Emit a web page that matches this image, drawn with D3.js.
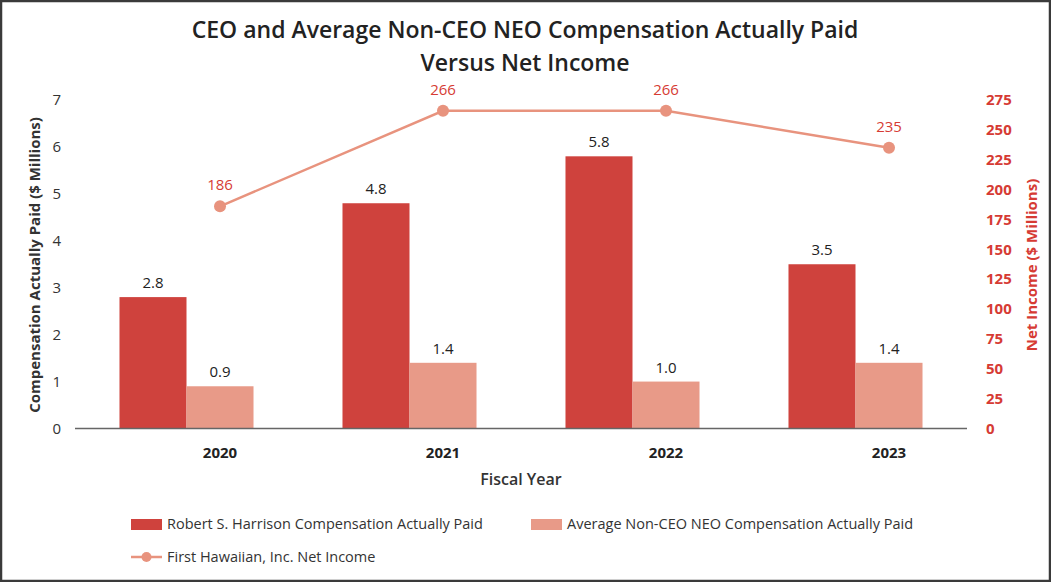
<!DOCTYPE html>
<html>
<head>
<meta charset="utf-8">
<script src="https://cdn.jsdelivr.net/npm/d3@7"></script>
<style>
  body { margin: 0; background: #fff; }
  svg { display: block; font-family: "Open Sans", sans-serif; }
</style>
</head>
<body>
<div id="chart"></div>
<script>
// chart data
const years = ["2020", "2021", "2022", "2023"];
const ceoPaid = [2.8, 4.8, 5.8, 3.5];
const neoPaid = [0.9, 1.4, 1.0, 1.4];
const netIncome = [186, 266, 266, 235];
const leftTicks = [0, 1, 2, 3, 4, 5, 6, 7];
const rightTicks = [0, 25, 50, 75, 100, 125, 150, 175, 200, 225, 250, 275];
const seriesNames = ["Robert S. Harrison Compensation Actually Paid",
  "Average Non-CEO NEO Compensation Actually Paid",
  "First Hawaiian, Inc. Net Income"];

const W = 1051, H = 582;
const ceoColor = "#cf423d", neoColor = "#e89a88", lineColor = "#e8937e", redText = "#d63b34";

const svg = d3.select("#chart").append("svg")
  .attr("width", W).attr("height", H);

// frame
svg.append("rect")
  .attr("x", 1).attr("y", 1).attr("width", W - 2).attr("height", H - 2)
  .attr("fill", "#fff").attr("stroke", "#3a3a3a").attr("stroke-width", 2.5);

// title
svg.append("text").attr("x", 525).attr("y", 38).attr("text-anchor", "middle")
  .attr("font-size", 23).attr("font-weight", 600).attr("fill", "#222")
  .text("CEO and Average Non-CEO NEO Compensation Actually Paid");
svg.append("text").attr("x", 525).attr("y", 71).attr("text-anchor", "middle")
  .attr("font-size", 23).attr("font-weight", 600).attr("fill", "#222")
  .text("Versus Net Income");

const plotLeft = 75, plotRight = 967, plotTop = 100, plotBottom = 428.5;

const x0 = d3.scaleBand().domain(years).range([plotLeft, plotRight])
  .paddingInner(0.399).paddingOuter(0.1995);
const x1 = d3.scaleBand().domain(["ceo", "neo"]).range([0, x0.bandwidth()]);
const y = d3.scaleLinear().domain([0, 7]).range([plotBottom, plotTop]);
const y2 = d3.scaleLinear().domain([0, 275]).range([plotBottom, plotTop]);

// x position for category labels / line points (center of second bar)
const cx = d => x0(d) + x1("neo") + x1.bandwidth() / 2;

// left axis
const gL = svg.append("g").attr("transform", `translate(61,0)`)
  .call(d3.axisLeft(y).tickValues(leftTicks).tickFormat(d3.format("d")).tickSize(0).tickPadding(0));
gL.select(".domain").remove();
gL.selectAll("text").attr("font-size", 15).attr("fill", "#333")
  .attr("font-family", "Open Sans, sans-serif");

// right axis
const gR = svg.append("g").attr("transform", `translate(986,0)`)
  .call(d3.axisRight(y2).tickValues(rightTicks).tickFormat(d3.format("d")).tickSize(0).tickPadding(0));
gR.select(".domain").remove();
gR.selectAll("text").attr("font-size", 15).attr("font-weight", 700).attr("fill", redText)
  .attr("font-family", "Open Sans, sans-serif");

// axis titles
svg.append("text").attr("transform", `translate(40,265) rotate(-90)`)
  .attr("text-anchor", "middle").attr("font-size", 15).attr("font-weight", 700)
  .attr("fill", "#333").text("Compensation Actually Paid ($ Millions)");
svg.append("text").attr("transform", `translate(1037,265) rotate(-90)`)
  .attr("text-anchor", "middle").attr("font-size", 15).attr("font-weight", 700)
  .attr("fill", redText).text("Net Income ($ Millions)");

// bars
const groups = svg.append("g").selectAll("g").data(years).join("g")
  .attr("transform", d => `translate(${x0(d)},0)`);
groups.append("rect")
  .attr("x", x1("ceo")).attr("width", x1.bandwidth())
  .attr("y", (d, i) => y(ceoPaid[i])).attr("height", (d, i) => plotBottom - y(ceoPaid[i]))
  .attr("fill", ceoColor);
groups.append("rect")
  .attr("x", x1("neo")).attr("width", x1.bandwidth())
  .attr("y", (d, i) => y(neoPaid[i])).attr("height", (d, i) => plotBottom - y(neoPaid[i]))
  .attr("fill", neoColor);
groups.append("text")
  .attr("x", x1("ceo") + x1.bandwidth() / 2).attr("y", (d, i) => y(ceoPaid[i]) - 9)
  .attr("text-anchor", "middle").attr("font-size", 15).attr("fill", "#222")
  .text((d, i) => ceoPaid[i].toFixed(1));
groups.append("text")
  .attr("x", x1("neo") + x1.bandwidth() / 2).attr("y", (d, i) => y(neoPaid[i]) - 9)
  .attr("text-anchor", "middle").attr("font-size", 15).attr("fill", "#222")
  .text((d, i) => neoPaid[i].toFixed(1));

// baseline
svg.append("line").attr("x1", plotLeft).attr("x2", plotRight)
  .attr("y1", plotBottom).attr("y2", plotBottom)
  .attr("stroke", "#666").attr("stroke-width", 1.5);

// category labels
svg.append("g").selectAll("text").data(years).join("text")
  .attr("x", d => cx(d)).attr("y", 458).attr("text-anchor", "middle")
  .attr("font-size", 15).attr("font-weight", 700).attr("fill", "#222")
  .text(d => d);
svg.append("text").attr("x", (plotLeft + plotRight) / 2).attr("y", 485)
  .attr("text-anchor", "middle").attr("font-size", 16).attr("font-weight", 600)
  .attr("fill", "#333").text("Fiscal Year");

// net income line
const line = d3.line().x((d, i) => cx(years[i])).y(d => y2(d));
svg.append("path").datum(netIncome)
  .attr("fill", "none").attr("stroke", lineColor).attr("stroke-width", 2.5)
  .attr("d", line);
svg.append("g").selectAll("circle").data(netIncome).join("circle")
  .attr("cx", (d, i) => cx(years[i])).attr("cy", d => y2(d)).attr("r", 6)
  .attr("fill", lineColor);
svg.append("g").selectAll("text").data(netIncome).join("text")
  .attr("x", (d, i) => cx(years[i])).attr("y", d => y2(d) - 16)
  .attr("text-anchor", "middle").attr("font-size", 15).attr("fill", redText)
  .text(d => d);

// legend
const leg = svg.append("g").attr("font-size", 14.5).attr("fill", "#333");
leg.append("rect").attr("x", 131).attr("y", 519).attr("width", 31).attr("height", 11).attr("fill", ceoColor);
leg.append("text").attr("x", 167).attr("y", 529).text(seriesNames[0]);
leg.append("rect").attr("x", 531).attr("y", 519).attr("width", 31).attr("height", 11).attr("fill", neoColor);
leg.append("text").attr("x", 567).attr("y", 529).text(seriesNames[1]);
leg.append("line").attr("x1", 131).attr("x2", 162).attr("y1", 557).attr("y2", 557)
  .attr("stroke", lineColor).attr("stroke-width", 2.5);
leg.append("circle").attr("cx", 146.5).attr("cy", 557).attr("r", 5).attr("fill", lineColor);
leg.append("text").attr("x", 167).attr("y", 562).text(seriesNames[2]);
</script>
</body>
</html>
